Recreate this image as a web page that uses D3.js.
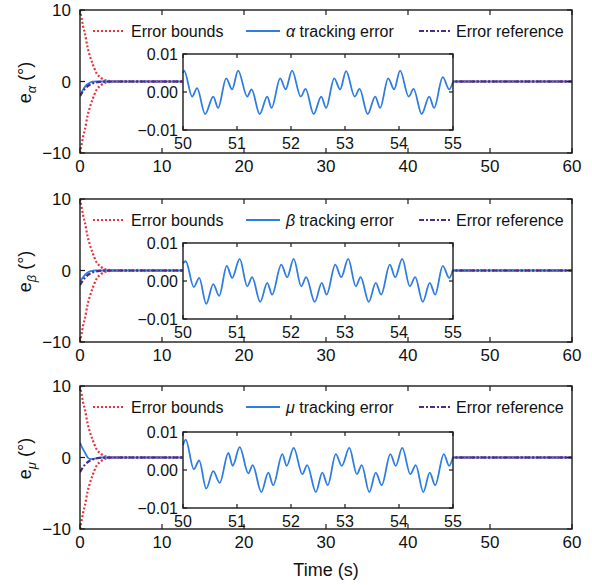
<!DOCTYPE html>
<html>
<head>
<meta charset="utf-8">
<script src="https://cdn.jsdelivr.net/npm/d3@7/dist/d3.min.js"></script>
<style>
  html, body { margin: 0; padding: 0; background: #fff; }
  svg { display: block; font-family: "Liberation Sans", Arial, sans-serif; }
</style>
</head>
<body>
<svg id="chart" width="592" height="585"></svg>
<script>
// ---- Axis ticks ----
const timeTicks = [0, 10, 20, 30, 40, 50, 60];
const errTicks = [-10, 0, 10];
const zoomTimeTicks = [50, 51, 52, 53, 54, 55];
const zoomErrTicks = [-0.01, 0, 0.01];

// ---- Prescribed performance bounds (shared by all three channels) ----
const boundTime  = [0, 0.2, 0.4, 0.6, 0.9, 1.2, 1.5, 2, 2.5, 3, 3.5, 4, 5, 60];
const boundUpper = [10, 8.8, 7.6, 6.7, 4.9, 3.6, 2.6, 1.2, 0.55, 0.22, 0.08, 0.03, 0.01, 0.01];
const boundLower = [-10, -8.8, -7.6, -6.7, -4.9, -3.6, -2.6, -1.2, -0.55, -0.22, -0.08, -0.03, -0.01, -0.01];

// ---- Error reference (transient) ----
const refTime  = [0, 0.3, 0.6, 0.9, 1.2, 1.5, 1.8, 2.4, 3, 4, 60];
const refValue = [-2.05, -1.5, -1.0, -0.68, -0.45, -0.29, -0.18, -0.06, -0.01, 0, 0];

// ---- Tracking error transients ----
const alphaTime  = [0, 0.2, 0.4, 0.6, 0.8, 1.0, 1.3, 1.6, 2, 60];
const alphaValue = [-2.0, -1.55, -1.1, -0.75, -0.48, -0.3, -0.12, -0.03, 0, 0];
const betaTime   = [0, 0.3, 0.6, 0.9, 1.2, 1.6, 2, 60];
const betaValue  = [-1.6, -1.05, -0.6, -0.3, -0.12, -0.03, 0, 0];
const muTime     = [0, 0.3, 0.6, 0.93, 1.2, 1.45, 2.0, 2.6, 60];
const muValue    = [2.1, 1.3, 0.7, 0.0, -0.2, -0.24, -0.1, 0, 0];

// ---- Steady-state tracking error, 50–55 s ([time, error]) ----
const alphaSteady = [
  [50.00,0.0050],[50.02,0.0056],[50.17,-0.0012],[50.26,0.0010],[50.41,-0.0058],[50.56,-0.0012],[50.65,-0.0042],[50.80,0.0036],[50.91,0.0007],
  [51.02,0.0056],[51.19,-0.0012],[51.27,0.0007],[51.42,-0.0058],[51.56,-0.0012],[51.64,-0.0042],[51.80,0.0036],[51.90,0.0007],
  [52.02,0.0056],[52.18,-0.0012],[52.27,0.0008],[52.42,-0.0058],[52.56,-0.0012],[52.65,-0.0042],[52.80,0.0036],[52.91,0.0007],
  [53.02,0.0055],[53.18,-0.0012],[53.27,0.0008],[53.42,-0.0058],[53.56,-0.0012],[53.65,-0.0042],[53.80,0.0036],[53.91,0.0007],
  [54.02,0.0056],[54.18,-0.0012],[54.27,0.0008],[54.42,-0.0058],[54.56,-0.0012],[54.65,-0.0042],[54.81,0.0039],[54.93,0.0007],[55.00,0.0027]
];
const betaSteady = [
  [50.00,0.0047],[50.05,0.0052],[50.20,-0.0016],[50.30,0.0008],[50.43,-0.0060],[50.56,-0.0008],[50.67,-0.0039],[50.81,0.0040],[50.91,0.0008],
  [51.05,0.0058],[51.19,-0.0014],[51.28,0.0010],[51.43,-0.0055],[51.56,-0.0005],[51.65,-0.0036],[51.82,0.0043],[51.93,0.0010],
  [52.05,0.0058],[52.19,-0.0014],[52.28,0.0010],[52.44,-0.0055],[52.57,-0.0005],[52.66,-0.0036],[52.82,0.0043],[52.93,0.0010],
  [53.06,0.0058],[53.20,-0.0014],[53.29,0.0010],[53.44,-0.0055],[53.57,-0.0005],[53.67,-0.0036],[53.83,0.0043],[53.93,0.0010],
  [54.06,0.0058],[54.20,-0.0014],[54.30,0.0010],[54.44,-0.0055],[54.57,-0.0005],[54.67,-0.0036],[54.81,0.0040],[54.93,0.0008],[55.00,0.0030]
];
const muSteady = [
  [50.00,0.0065],[50.05,0.0080],[50.20,0.0002],[50.30,0.0025],[50.43,-0.0049],[50.56,-0.0003],[50.68,-0.0034],[50.84,0.0045],[50.92,0.0011],
  [51.05,0.0060],[51.21,-0.0009],[51.29,0.0013],[51.45,-0.0058],[51.58,-0.0007],[51.67,-0.0040],[51.84,0.0042],[51.92,0.0011],
  [52.05,0.0058],[52.21,-0.0011],[52.30,0.0013],[52.46,-0.0058],[52.58,-0.0007],[52.68,-0.0040],[52.83,0.0042],[52.94,0.0011],
  [53.08,0.0058],[53.22,-0.0011],[53.31,0.0013],[53.45,-0.0058],[53.57,-0.0007],[53.68,-0.0040],[53.84,0.0042],[53.94,0.0011],
  [54.06,0.0058],[54.21,-0.0011],[54.31,0.0013],[54.45,-0.0058],[54.57,-0.0007],[54.67,-0.0040],[54.83,0.0042],[54.93,0.0011],[55.00,0.0034]
];

const channels = [
  { sym: "α", time: alphaTime, value: alphaValue, steady: alphaSteady },
  { sym: "β", time: betaTime,  value: betaValue,  steady: betaSteady },
  { sym: "μ", time: muTime,    value: muValue,    steady: muSteady }
];

// ---- Styling ----
const C_BOUND = "#e8333d", C_TRACK = "#2f7de1", C_REF = "#4f2a8c", C_AXIS = "#1a1a1a";
const DASH_BOUND = "2,2", DASH_REF = "5,2,2,2";
const FONT_MAIN = 17, FONT_SMALL = 16;

const svg = d3.select("#chart");
const panelTops = [10, 199, 386];
const panelH = 143;
const insetTops = [54, 243, 432];
const insetH = 76;
const xMain = d3.scaleLinear().domain([0, 60]).range([80, 572]);
const xInset = d3.scaleLinear().domain([50, 55]).range([183, 453]);

const zip = (a, b) => a.map((t, i) => [t, b[i]]);

// Draw ticks inward on all four sides of a box
function boxAxes(g, xs, ys, xt, yt, tickLen, fmtX, fmtY, fontSize, xLabelGap, yLabelGap) {
  const [x0, x1] = xs.range();
  const [y0, y1] = ys.range(); // y0 bottom, y1 top
  g.append("rect").attr("x", x0).attr("y", y1).attr("width", x1 - x0).attr("height", y0 - y1)
    .attr("fill", "none").attr("stroke", C_AXIS).attr("stroke-width", 1.4);
  xt.forEach(t => {
    const x = xs(t);
    g.append("line").attr("x1", x).attr("x2", x).attr("y1", y0).attr("y2", y0 - tickLen).attr("stroke", C_AXIS).attr("stroke-width", 1.2);
    g.append("line").attr("x1", x).attr("x2", x).attr("y1", y1).attr("y2", y1 + tickLen).attr("stroke", C_AXIS).attr("stroke-width", 1.2);
    g.append("text").attr("x", x).attr("y", y0 + xLabelGap).attr("text-anchor", "middle")
      .attr("font-size", fontSize).attr("fill", "#111").text(fmtX(t));
  });
  yt.forEach(v => {
    const y = ys(v);
    g.append("line").attr("x1", x0).attr("x2", x0 + tickLen).attr("y1", y).attr("y2", y).attr("stroke", C_AXIS).attr("stroke-width", 1.2);
    g.append("line").attr("x1", x1).attr("x2", x1 - tickLen).attr("y1", y).attr("y2", y).attr("stroke", C_AXIS).attr("stroke-width", 1.2);
    g.append("text").attr("x", x0 - yLabelGap).attr("y", y).attr("dy", "0.36em").attr("text-anchor", "end")
      .attr("font-size", fontSize).attr("fill", "#111").text(fmtY(v));
  });
}

const fmtInt = d3.format("d");
const fmtTwo = d3.format(".2f");

channels.forEach((ch, i) => {
  const top = panelTops[i];
  const g = svg.append("g");
  const y = d3.scaleLinear().domain([-10, 10]).range([top + panelH, top]);
  const line = d3.line().x(d => xMain(d[0])).y(d => y(d[1])).curve(d3.curveMonotoneX);

  const clipId = "clip" + i;
  g.append("clipPath").attr("id", clipId).append("rect")
    .attr("x", xMain(0)).attr("y", top).attr("width", xMain(60) - xMain(0)).attr("height", panelH);
  const plot = g.append("g").attr("clip-path", `url(#${clipId})`);

  plot.append("path").attr("d", line(zip(boundTime, boundUpper))).attr("fill", "none")
    .attr("stroke", C_BOUND).attr("stroke-width", 2.2).attr("stroke-dasharray", DASH_BOUND);
  plot.append("path").attr("d", line(zip(boundTime, boundLower))).attr("fill", "none")
    .attr("stroke", C_BOUND).attr("stroke-width", 2.2).attr("stroke-dasharray", DASH_BOUND);
  plot.append("path").attr("d", line(zip(ch.time, ch.value))).attr("fill", "none")
    .attr("stroke", C_TRACK).attr("stroke-width", 1.8);
  plot.append("path").attr("d", line(zip(refTime, refValue))).attr("fill", "none")
    .attr("stroke", C_REF).attr("stroke-width", 2.2).attr("stroke-dasharray", DASH_REF);

  boxAxes(g, xMain, y, timeTicks, errTicks, 5, fmtInt, fmtInt, FONT_MAIN, 19, 9);

  // y label
  const lab = g.append("text").attr("transform", `translate(31,${top + panelH / 2 + 1}) rotate(-90)`)
    .attr("text-anchor", "middle").attr("font-size", FONT_MAIN + 1).attr("fill", "#111");
  lab.append("tspan").text("e");
  lab.append("tspan").attr("font-style", "italic").attr("font-size", 13).attr("dy", 5).text(ch.sym);
  lab.append("tspan").attr("dy", -5).text(" (°)");

  // legend
  const ly = top + 21;
  const leg = g.append("g").attr("font-size", FONT_SMALL).attr("fill", "#111");
  leg.append("line").attr("x1", 93).attr("x2", 125).attr("y1", ly).attr("y2", ly)
    .attr("stroke", C_BOUND).attr("stroke-width", 2.2).attr("stroke-dasharray", DASH_BOUND);
  leg.append("text").attr("x", 131).attr("y", ly).attr("dy", "0.36em").text("Error bounds");
  leg.append("line").attr("x1", 246).attr("x2", 280).attr("y1", ly).attr("y2", ly)
    .attr("stroke", C_TRACK).attr("stroke-width", 1.8);
  const t2 = leg.append("text").attr("x", 286).attr("y", ly).attr("dy", "0.36em");
  t2.append("tspan").attr("font-style", "italic").text(ch.sym);
  t2.append("tspan").text(" tracking error");
  leg.append("line").attr("x1", 419).attr("x2", 450).attr("y1", ly).attr("y2", ly)
    .attr("stroke", C_REF).attr("stroke-width", 2.2).attr("stroke-dasharray", DASH_REF);
  leg.append("text").attr("x", 456).attr("y", ly).attr("dy", "0.36em").text("Error reference");

  // inset: steady-state error 50–55 s
  const it = insetTops[i];
  const yi = d3.scaleLinear().domain([-0.01, 0.01]).range([it + insetH, it]);
  const ig = g.append("g");
  ig.append("rect").attr("x", xInset(50)).attr("y", it).attr("width", xInset(55) - xInset(50)).attr("height", insetH)
    .attr("fill", "#fff");
  const iline = d3.line().x(d => xInset(d[0])).y(d => yi(d[1])).curve(d3.curveMonotoneX);
  ig.append("path").attr("d", iline(ch.steady)).attr("fill", "none").attr("stroke", C_TRACK).attr("stroke-width", 1.8);
  boxAxes(ig, xInset, yi, zoomTimeTicks, zoomErrTicks, 4, fmtInt, fmtTwo, FONT_SMALL, 19, 5);
});

svg.append("text").attr("x", 326).attr("y", 576).attr("text-anchor", "middle")
  .attr("font-size", FONT_MAIN + 1).attr("fill", "#111").text("Time (s)");
</script>
</body>
</html>
